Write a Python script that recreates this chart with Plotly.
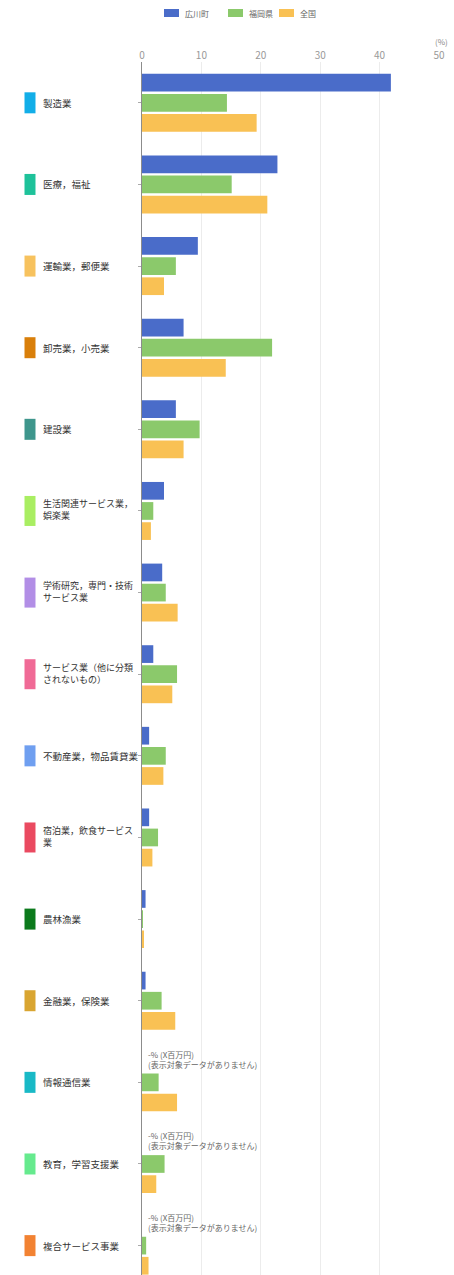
import plotly.graph_objects as go

# Industry categories (top to bottom)
categories = [
    "製造業",
    "医療，福祉",
    "運輸業，郵便業",
    "卸売業，小売業",
    "建設業",
    "生活関連サービス業，\n娯楽業",
    "学術研究，専門・技術\nサービス業",
    "サービス業（他に分類\nされないもの）",
    "不動産業，物品賃貸業",
    "宿泊業，飲食サービス\n業",
    "農林漁業",
    "金融業，保険業",
    "情報通信業",
    "教育，学習支援業",
    "複合サービス事業",
]

# Colour chip shown next to each industry label
category_colors = [
    "#12aee8", "#1ec29a", "#f7c25e", "#d97f0a", "#3e968c",
    "#a9ee62", "#b28ee6", "#f06a96", "#6f9ff0", "#ea4a60",
    "#0b7a1c", "#d9a531", "#19b9c6", "#66ea8e", "#f28232",
]

series_names = ["広川町", "福岡県", "全国"]
series_colors = ["#4a6cc9", "#8bc96b", "#f9c154"]

# Share of value (%) per industry
hirokawa = [41.9, 22.8, 9.4, 7.0, 5.7, 3.7, 3.4, 1.9, 1.2, 1.2, 0.6, 0.6, None, None, None]
fukuoka = [14.3, 15.1, 5.7, 21.9, 9.7, 1.9, 4.0, 5.9, 4.0, 2.7, 0.1, 3.3, 2.8, 3.8, 0.7]
zenkoku = [19.3, 21.1, 3.7, 14.1, 7.0, 1.5, 6.0, 5.1, 3.6, 1.75, 0.2, 5.6, 5.9, 2.4, 1.1]

x_ticks = [0, 10, 20, 30, 40, 50]
no_data_lines = ["-% (X百万円)", "(表示対象データがありません)"]

W, H = 454, 1275
ML, MR, MT, MB = 142, 15, 62, 0
plot_w = W - ML - MR
plot_h = H - MT - MB
JP = "Noto Sans CJK JP, Noto Sans, sans-serif"

idx = list(range(len(categories)))

fig = go.Figure()
for name, color, vals in zip(series_names, series_colors, [hirokawa, fukuoka, zenkoku]):
    fig.add_trace(go.Bar(
        y=idx, x=vals, name=name, orientation="h",
        marker=dict(color=color, line=dict(width=0)),
        showlegend=False, hoverinfo="x+name",
    ))

annotations = []
shapes = []

def px_to_paper_x(px):
    return (px - ML) / plot_w

def px_to_paper_y(py):
    return 1 - (py - MT) / plot_h

# Industry labels with coloured chips
for i, (label, col) in enumerate(zip(categories, category_colors)):
    lines = label.split("\n")
    half = 10.5 / 81.6 if len(lines) == 1 else 15 / 81.6
    shapes.append(dict(
        type="rect", xref="paper", yref="y",
        x0=px_to_paper_x(24.5), x1=px_to_paper_x(35.5),
        y0=i - half, y1=i + half,
        fillcolor=col, line=dict(width=0), layer="above",
    ))
    annotations.append(dict(
        xref="paper", yref="y", x=px_to_paper_x(41), y=i,
        text="<br>".join(lines), showarrow=False,
        xanchor="left", yanchor="middle", align="left",
        yshift=0 if len(lines) == 1 else 1,
        font=dict(family=JP, size=9.5 if len(lines) == 1 else 9, color="#333333"),
    ))

# Notes where the town's figure is not available
for i, v in enumerate(hirokawa):
    if v is None:
        annotations.append(dict(
            xref="x", yref="y", x=0, y=i, text="<br>".join(no_data_lines),
            showarrow=False, xanchor="left", yanchor="middle", align="left",
            xshift=4, yshift=23,
            font=dict(family=JP, size=8, color="#666666"),
        ))

# Unit label
annotations.append(dict(
    xref="paper", yref="paper", x=px_to_paper_x(441), y=px_to_paper_y(42),
    text="(%)", showarrow=False, xanchor="center", yanchor="middle",
    font=dict(family=JP, size=8, color="#888888"),
))

# Legend drawn at the top
legend_items = [(164, 183), (228, 247), (279, 298)]
for (sx, tx), name, col in zip(legend_items, series_names, series_colors):
    shapes.append(dict(
        type="rect", xref="paper", yref="paper",
        x0=px_to_paper_x(sx), x1=px_to_paper_x(sx + 15),
        y0=px_to_paper_y(17), y1=px_to_paper_y(9),
        fillcolor=col, line=dict(width=0),
    ))
    annotations.append(dict(
        xref="paper", yref="paper", x=px_to_paper_x(tx), y=px_to_paper_y(13),
        text=name, showarrow=False, xanchor="left", yanchor="middle",
        font=dict(family=JP, size=8, color="#666666"),
    ))

fig.update_layout(
    width=W, height=H,
    margin=dict(l=ML, r=MR, t=MT, b=MB, pad=0),
    paper_bgcolor="white", plot_bgcolor="white",
    barmode="group", bargap=0.26, bargroupgap=0.12,
    font=dict(family=JP),
    annotations=annotations, shapes=shapes,
    xaxis=dict(
        side="top", range=[0, 50], tickvals=x_ticks,
        ticktext=[str(t) for t in x_ticks],
        tickfont=dict(size=10, color="#999999"),
        showgrid=True, gridcolor="#ececec", gridwidth=1,
        zeroline=False, showline=False, ticks="",
        fixedrange=True,
    ),
    yaxis=dict(
        range=[14.36, -0.5], tickvals=idx, showticklabels=False,
        showgrid=False, zeroline=False,
        showline=True, linecolor="#8c8c8c", linewidth=1,
        ticks="outside", ticklen=3, tickcolor="#aaaaaa",
        fixedrange=True,
    ),
)

fig.write_html("out.html")
